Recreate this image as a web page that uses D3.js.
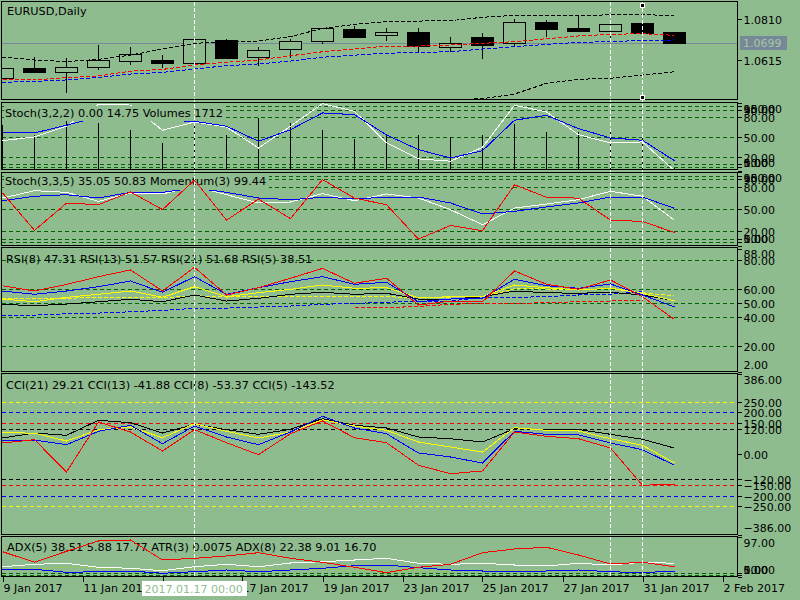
<!DOCTYPE html>
<html>
<head>
<meta charset="utf-8">
<script src="https://cdn.jsdelivr.net/npm/d3@7"></script>
<style>
  body { margin: 0; background: #8fbc8f; }
  svg { display: block; font-family: "DejaVu Sans", sans-serif; shape-rendering: crispEdges; }
</style>
</head>
<body>
<svg id="chart" width="800" height="600"></svg>
<script>
// ---------- data (EURUSD daily, 22 bars) ----------
const openPrices  = [1.0529, 1.0577, 1.0556, 1.0580, 1.0613, 1.0617, 1.0601, 1.0712, 1.0629, 1.0667, 1.0703,
                     1.0764, 1.0734, 1.0748, 1.0680, 1.0726, 1.0694, 1.0796, 1.0769, 1.0756, 1.0792, 1.0750];
const highPrices  = [1.0580, 1.0629, 1.0625, 1.0688, 1.0677, 1.0640, 1.0715, 1.0716, 1.0678, 1.0715, 1.0769,
                     1.0778, 1.0767, 1.0769, 1.0726, 1.0743, 1.0811, 1.0807, 1.0830, 1.0788, 1.0792, 1.0750];
const lowPrices   = [1.0526, 1.0553, 1.0458, 1.0569, 1.0593, 1.0580, 1.0601, 1.0627, 1.0588, 1.0625, 1.0694,
                     1.0720, 1.0708, 1.0653, 1.0656, 1.0620, 1.0684, 1.0727, 1.0756, 1.0712, 1.0746, 1.0693];
const closePrices = [1.0577, 1.0556, 1.0582, 1.0615, 1.0644, 1.0604, 1.0715, 1.0627, 1.0663, 1.0705, 1.0767,
                     1.0727, 1.0750, 1.0680, 1.0697, 1.0689, 1.0796, 1.0765, 1.0756, 1.0788, 1.0746, 1.0699];

const bandUpper = [1.0631, 1.0617, 1.0609, 1.0620, 1.0640, 1.0669, 1.0696, 1.0704, 1.0707, 1.0728, 1.0767,
                   1.0786, 1.0799, 1.0802, 1.0804, 1.0820, 1.0829, 1.0827, 1.0827, 1.0832, 1.0832, 1.0829];
const bandLower = [null, null, null, null, null, null, null, null, null, null, null,
                   null, null, null, 1.0428, 1.0433, 1.0455, 1.0506, 1.0525, 1.0530, 1.0545, 1.0561];
const maRed     = [1.0522, 1.0522, 1.0533, 1.0541, 1.0564, 1.0572, 1.0593, 1.0606, 1.0617, 1.0637, 1.0656,
                   1.0669, 1.0683, 1.0683, 1.0688, 1.0696, 1.0704, 1.0718, 1.0731, 1.0739, 1.0742, 1.0734];
const maBlue    = [1.0511, 1.0515, 1.0522, 1.0534, 1.0550, 1.0558, 1.0574, 1.0590, 1.0598, 1.0612, 1.0630,
                   1.0640, 1.0649, 1.0653, 1.0656, 1.0669, 1.0680, 1.0691, 1.0701, 1.0704, 1.0710, 1.0712];

const stochFastMain   = [44.4, 49.9, 65.7, 98.0, 97.0, 59.7, 72.0, 64.5, 33.6, 65.7, 99.0,
                         87.8, 41.0, 17.4, 14.0, 34.6, 96.7, 86.8, 53.2, 41.0, 42.5, 0.00];
const stochFastSignal = [55.8, 55.8, 67.1, 79.4, 82.0, 74.2, 73.0, 65.7, 43.5, 60.6, 85.3,
                         82.8, 52.8, 31.1, 18.8, 29.6, 74.5, 81.9, 62.1, 48.4, 45.0, 14.75];
const volumes = [38120, 29450, 45110, 39980, 34240, 22860, 42800, 29450, 44260, 39980, 34240,
                 26540, 28590, 29450, 27990, 29450, 39380, 32270, 32270, 33730, 27990, 1712];

const stochSlowMain   = [64.8, 74.6, 72.4, 60.3, 71.5, 70.2, 80.5, 69.2, 58.1, 59.4, 70.6,
                         61.2, 70.2, 64.8, 49.1, 28.9, 51.3, 56.7, 62.5, 73.8, 67.1, 35.05];
const stochSlowSignal = [61.2, 67.1, 69.2, 64.8, 72.4, 72.4, 78.2, 72.4, 64.8, 62.5, 65.7,
                         63.8, 65.7, 66.1, 58.1, 43.3, 46.9, 52.7, 58.1, 66.1, 66.1, 50.83];
const momentum = [100.72, 99.51, 100.39, 100.34, 100.75, 100.18, 101.13, 99.84, 100.52, 99.89, 101.15,
                  100.55, 100.34, 99.23, 99.67, 99.50, 100.98, 100.58, 100.55, 99.84, 99.80, 99.44];

const rsi5  = [62.1, 58.4, 63.0, 68.4, 73.1, 58.4, 74.9, 55.6, 60.7, 67.3, 74.2,
               63.8, 67.3, 48.6, 51.4, 50.9, 72.4, 63.1, 59.6, 66.1, 54.4, 38.51];
const rsi8  = [58.4, 56.1, 58.4, 61.4, 65.4, 57.5, 68.4, 56.1, 60.7, 64.9, 68.4,
               63.1, 64.5, 50.9, 52.8, 53.3, 66.6, 62.1, 60.3, 63.3, 55.6, 47.31];
const rsi13 = [52.8, 50.9, 54.0, 56.1, 58.4, 54.0, 61.4, 54.4, 57.2, 59.6, 62.6,
               60.3, 60.7, 53.7, 54.4, 54.4, 62.6, 60.7, 59.1, 60.3, 56.8, 51.57];
const rsi21 = [49.1, 48.1, 49.3, 50.9, 52.6, 50.9, 55.6, 51.4, 53.3, 56.1, 57.5,
               56.1, 56.8, 52.8, 52.8, 54.4, 58.4, 57.2, 56.8, 57.5, 55.6, 51.68];
const rsiAvgYellow = [53.3, 53.0, 53.3, 54.0, 54.2, 53.7, 55.1, 54.2, 54.4, 54.7, 54.9,
                      54.7, 54.4, 53.7, 54.2, 54.4, 59.8, 59.8, 59.1, 60.3, 57.2, 54.9];
const rsiAvgBlue   = [41.1, 41.6, 42.5, 43.0, 43.9, 44.9, 46.3, 46.5, 47.2, 47.9, 49.1,
                      49.8, 50.5, 51.4, 51.4, 54.0, 54.0, 54.4, 55.6, 56.1, 57.9, null];
const rsiAvgRed    = [null, null, null, null, null, null, null, null, null, null, null,
                      46.7, 46.7, 47.7, 49.1, 49.8, 49.8, 50.2, 50.9, 51.4, 52.1, null];

const cci21 = [77.7, 101.6, 90.6, 162.5, 151.0, 101.6, 143.3, 117.5, 95.4, 119.4, 170.2,
               138.5, 125.6, 82.5, 74.3, 58.5, 122.1, 119.4, 118.3, 95.4, 71.4, 29.21];
const cci13 = [103.1, 101.0, 63.3, 117.5, 130.4, 79.1, 146.2, 109.8, 77.7, 106.4, 165.4,
               135.2, 114.6, 58.5, 34.5, 10.5, 127.0, 114.6, 111.2, 74.3, 42.7, -41.88];
const cci8  = [66.6, 68.0, 45.5, 109.8, 138.5, 50.3, 135.2, 82.5, 45.5, 106.4, 181.7,
               125.6, 98.3, 5.8, -13.4, -42.2, 109.8, 95.4, 93.0, 53.7, 21.6, -53.37];
const cci5  = [53.7, 69.5, -85.3, 154.4, 106.4, 15.3, 117.5, 55.1, -2.4, 98.3, 159.2,
               79.1, 55.1, -53.2, -93.5, -80.5, 106.4, 85.8, 74.3, 29.7, -149.1, -143.52];

const adxMain  = [61.6, 35.5, 62.5, 87.9, 90.4, 41.1, 45.3, 51.0, 59.1, 45.3, 35.5,
                  23.2, 9.9, 23.2, 30.5, 59.1, 68.2, 72.4, 53.4, 31.3, 35.5, 24.6];
const adxPlus  = [24.6, 30.5, 33.0, 23.2, 20.7, 14.8, 24.6, 30.5, 24.6, 33.7, 36.9,
                  41.1, 45.3, 33.0, 30.5, 33.0, 28.8, 26.4, 33.0, 28.8, 35.5, 33.0];
const adxMinus = [16.5, 18.2, 10.8, 12.3, 14.0, 8.4, 12.3, 16.5, 12.3, 16.5, 20.7,
                  27.1, 28.8, 22.2, 16.5, 14.0, 14.0, 14.0, 16.5, 12.3, 9.9, 14.0];
const atr3 = [0.0095, 0.0102, 0.0118, 0.0110, 0.0098, 0.0090, 0.0105, 0.0112, 0.0101, 0.0093, 0.0088,
              0.0082, 0.0070, 0.0074, 0.0068, 0.0080, 0.0084, 0.0079, 0.0072, 0.0069, 0.0066, 0.0075];

const timeTickBars   = [0, 2.5, 5, 7.5, 10, 12.5, 15, 17.5, 20, 22.5];
const timeTickLabels = ['9 Jan 2017', '11 Jan 2017', '13 Jan 2017', '17 Jan 2017', '19 Jan 2017',
                        '23 Jan 2017', '25 Jan 2017', '27 Jan 2017', '31 Jan 2017', '2 Feb 2017'];
const vLineBars = [6, 19, 20];
const crosshairBar = 6;
const crosshairLabel = '2017.01.17 00:00';
const selectedBar = 20;

const priceTicks = [1.0810, 1.0615];
const stochLevels = [95, 90, 80, 50, 20, 10, 5];
const stochTicks = [100, 95, 90, 80, 50, 20, 10, 5, 0];
const rsiLevels = [80, 60, 50, 40, 20];
const rsiTicks = [88, 80, 60, 50, 40, 20, 2];
const cciLevels = [250, 200, 150, 120, -120, -150, -200, -250];
const cciLevelColors = ['#ffff00', '#0000ff', '#ff0000', '#000000', '#000000', '#ff0000', '#0000ff', '#ffff00'];
const cciTicks = [386, 250, 200, 150, 120, 0, -120, -150, -200, -250, -386];
const adxLevels = [10, 5];
const adxTicks = [97, 10, 5, 0];

// ---------- setup ----------
const bg = '#8fbc8f';
const levelGreen = '#006400';
const svg = d3.select('#chart');
svg.append('rect').attr('width', 800).attr('height', 600).attr('fill', bg);

const xScale = d3.scaleLinear().domain([0, 22.5]).range([2.5, 722.5]);
const contentLayer = svg.append('g');
const overlayLayer = svg.append('g');
const frameLayer = svg.append('g');

class IndicatorPanel {
  constructor(_config) {
    this.config = {
      id: _config.id,
      top: _config.top,
      bottom: _config.bottom,
      domain: _config.domain,
      left: 1.5,
      right: 737.5,
      range: _config.range || [_config.bottom, _config.top]
    };
    this.initVis();
  }

  initVis() {
    let vis = this;
    vis.yScale = d3.scaleLinear().domain(vis.config.domain).range(vis.config.range);

    svg.append('clipPath').attr('id', `clip-${vis.config.id}`)
      .append('rect')
        .attr('x', vis.config.left)
        .attr('y', vis.config.top)
        .attr('width', vis.config.right - vis.config.left)
        .attr('height', vis.config.bottom - vis.config.top);

    vis.chart = contentLayer.append('g').attr('clip-path', `url(#clip-${vis.config.id})`);

    frameLayer.append('rect')
        .attr('x', vis.config.left)
        .attr('y', vis.config.top)
        .attr('width', vis.config.right - vis.config.left)
        .attr('height', vis.config.bottom - vis.config.top)
        .attr('fill', 'none')
        .attr('stroke', '#000');
  }

  levels(values, colors) {
    let vis = this;
    vis.chart.selectAll(null)
        .data(values)
      .join('line')
        .attr('x1', vis.config.left)
        .attr('x2', vis.config.right)
        .attr('y1', d => Math.round(vis.yScale(d)) + 0.5)
        .attr('y2', d => Math.round(vis.yScale(d)) + 0.5)
        .attr('stroke', (d, i) => colors ? colors[i] : levelGreen)
        .attr('stroke-dasharray', '4,3');
  }

  line(values, color, dash, scale) {
    let vis = this;
    const y = scale || vis.yScale;
    const path = d3.line()
        .defined(d => d !== null)
        .x((d, i) => xScale(i))
        .y(d => y(d));
    vis.chart.append('path')
        .datum(values)
        .attr('d', path)
        .attr('fill', 'none')
        .attr('stroke', color)
        .attr('stroke-width', 1)
        .attr('stroke-dasharray', dash || null);
  }

  label(text, x, baseline, box) {
    let vis = this;
    if (box) {
      vis.chart.append('rect')
          .attr('x', x - 1)
          .attr('y', box[0])
          .attr('width', box[2])
          .attr('height', box[1] - box[0])
          .attr('fill', bg);
    }
    vis.chart.append('text')
        .attr('x', x)
        .attr('y', baseline)
        .attr('font-size', '11.3px')
        .attr('fill', '#000')
        .text(text);
  }

  axisTicks(values, fmt) {
    let vis = this;
    const g = frameLayer.append('g');
    values.forEach(v => {
      const y = Math.round(vis.yScale(v)) + 0.5;
      g.append('line')
          .attr('x1', vis.config.right).attr('x2', vis.config.right + 4)
          .attr('y1', y).attr('y2', y)
          .attr('stroke', '#000');
      const cy = Math.max(vis.config.top + 6, Math.min(vis.config.bottom - 7, y));
      g.append('text')
          .attr('x', vis.config.right + 6)
          .attr('y', cy + 4)
          .attr('font-size', '11px')
          .attr('fill', '#000')
          .text(fmt(v));
    });
  }
}

const fmt2 = d3.format('.2f');

// ---------- main price window ----------
const main = new IndicatorPanel({id: 'main', top: 1.5, bottom: 99.5, domain: [1.0429, 1.0895]});
const lastClose = closePrices[closePrices.length - 1];
main.chart.append('line')
    .attr('x1', main.config.left).attr('x2', main.config.right)
    .attr('y1', Math.round(main.yScale(lastClose)) + 0.5)
    .attr('y2', Math.round(main.yScale(lastClose)) + 0.5)
    .attr('stroke', '#778899');

const candles = closePrices.map((c, i) => ({i: i, o: openPrices[i], h: highPrices[i], l: lowPrices[i], c: c}));
main.chart.selectAll('.wick')
    .data(candles)
  .join('line')
    .attr('class', 'wick')
    .attr('x1', d => xScale(d.i)).attr('x2', d => xScale(d.i))
    .attr('y1', d => main.yScale(d.h))
    .attr('y2', d => main.yScale(d.l))
    .attr('stroke', '#000');
main.chart.selectAll('.body')
    .data(candles)
  .join('rect')
    .attr('class', 'body')
    .attr('x', d => xScale(d.i) - 11)
    .attr('width', 22)
    .attr('y', d => Math.round(main.yScale(Math.max(d.o, d.c))) + 0.5)
    .attr('height', d => Math.max(1, Math.round(Math.abs(main.yScale(d.o) - main.yScale(d.c)))))
    .attr('fill', d => d.c >= d.o ? bg : '#000')
    .attr('stroke', '#000');

main.line(bandUpper, '#000', '4,2');
main.line(bandLower, '#000', '4,2');
main.line(maRed, '#ff0000', '4,2');
main.line(maBlue, '#0000ff', '4,2');
main.label('EURUSD,Daily', 7, 15);
main.axisTicks(priceTicks, d3.format('.4f'));

// ---------- Stoch(3,2,2) + Volumes ----------
const stochA = new IndicatorPanel({id: 'stochA', top: 102.5, bottom: 169.5, domain: [0, 100], range: [170.7, 103]});
const volScale = d3.scaleLinear().domain([0, 58000]).range([169.5, 102.5]);
stochA.levels(stochLevels);
stochA.chart.selectAll('.vol')
    .data(volumes)
  .join('line')
    .attr('class', 'vol')
    .attr('x1', (d, i) => xScale(i)).attr('x2', (d, i) => xScale(i))
    .attr('y1', volScale(0))
    .attr('y2', d => volScale(d))
    .attr('stroke', '#000');
stochA.line(stochFastMain, '#ffffff');
stochA.line(stochFastSignal, '#0000ff');
stochA.label('Stoch(3,2,2) 0.00 14.75 Volumes 1712', 5, 117, [105.5, 120.5, 222]);
stochA.axisTicks(stochTicks, fmt2);

// ---------- Stoch(3,3,5) + Momentum ----------
const stochB = new IndicatorPanel({id: 'stochB', top: 172, bottom: 245.5, domain: [0, 100], range: [246.2, 171.8]});
const momScale = d3.scaleLinear().domain([99.0, 101.4]).range([246.2, 171.8]);
stochB.levels(stochLevels);
stochB.line(stochSlowMain, '#ffffff');
stochB.line(stochSlowSignal, '#0000ff');
stochB.label('Stoch(3,3,5) 35.05 50.83 Momentum(3) 99.44', 5, 185.3, [175, 190.3, 265]);
stochB.line(momentum, '#ff0000', null, momScale);
stochB.axisTicks(stochTicks, fmt2);

// ---------- RSI ----------
const rsi = new IndicatorPanel({id: 'rsi', top: 247.8, bottom: 371.5, domain: [2, 88], range: [371.8, 248.6]});
rsi.levels(rsiLevels);
rsi.line(rsiAvgBlue, '#0000ff', '4,2');
rsi.line(rsiAvgRed, '#ff0000', '4,2');
rsi.line(rsiAvgYellow, '#ffff00', '4,2');
rsi.line(rsi21, '#000000');
rsi.line(rsi13, '#ffff00');
rsi.line(rsi8, '#0000ff');
rsi.line(rsi5, '#ff0000');
rsi.label('RSI(8) 47.31 RSI(13) 51.57 RSI(21) 51.68 RSI(5) 38.51', 6, 263.3);
rsi.axisTicks(rsiTicks, fmt2);

// ---------- CCI ----------
const cci = new IndicatorPanel({id: 'cci', top: 373.5, bottom: 534.5, domain: [-386, 386], range: [534.7, 373.7]});
cci.levels(cciLevels, cciLevelColors);
cci.line(cci21, '#000000');
cci.line(cci13, '#ffff00');
cci.line(cci8, '#0000ff');
cci.line(cci5, '#ff0000');
cci.label('CCI(21) 29.21 CCI(13) -41.88 CCI(8) -53.37 CCI(5) -143.52', 6, 388.7);
cci.axisTicks(cciTicks, fmt2);

// ---------- ADX + ATR ----------
const adx = new IndicatorPanel({id: 'adx', top: 536.5, bottom: 576.7, domain: [0, 97], range: [576.7, 537.3]});
const atrScale = d3.scaleLinear().domain([0, 0.05]).range([576.7, 537.3]);
adx.levels(adxLevels);
adx.label('ADX(5) 38.51 5.88 17.77 ATR(3) 0.0075 ADX(8) 22.38 9.01 16.70', 7, 551);
adx.line(atr3, '#9acd32', '2,2', atrScale);
adx.line(adxMinus, '#0000ff');
adx.line(adxPlus, '#ffffff');
adx.line(adxMain, '#ff0000');
adx.axisTicks(adxTicks, fmt2);

// ---------- vertical lines ----------
overlayLayer.selectAll('.vline')
    .data(vLineBars)
  .join('line')
    .attr('class', 'vline')
    .attr('x1', d => xScale(d)).attr('x2', d => xScale(d))
    .attr('y1', main.config.top)
    .attr('y2', adx.config.bottom)
    .attr('stroke', '#ffffff')
    .attr('stroke-dasharray', '4,2');

[main.config.top + 2, main.config.bottom - 4].forEach(y => {
  frameLayer.append('rect')
      .attr('x', xScale(selectedBar) - 2)
      .attr('y', y)
      .attr('width', 4)
      .attr('height', 4)
      .attr('fill', '#000')
      .attr('stroke', '#fff');
});

// ---------- price label ----------
const lastY = main.yScale(lastClose);
frameLayer.append('rect')
    .attr('x', 739.5).attr('y', Math.round(lastY) - 7)
    .attr('width', 47).attr('height', 14)
    .attr('fill', '#778899');
frameLayer.append('text')
    .attr('x', 743).attr('y', Math.round(lastY) + 4)
    .attr('font-size', '11px')
    .attr('fill', '#a3c7a3')
    .text(d3.format('.4f')(lastClose));

// ---------- time axis ----------
const timeAxis = frameLayer.append('g');
timeTickBars.forEach((b, i) => {
  const x = Math.round(xScale(b)) + 0.5;
  timeAxis.append('line')
      .attr('x1', x).attr('x2', x)
      .attr('y1', adx.config.bottom).attr('y2', adx.config.bottom + 5)
      .attr('stroke', '#000');
  timeAxis.append('text')
      .attr('x', x)
      .attr('y', 592)
      .attr('font-size', '11px')
      .attr('fill', '#000')
      .text(timeTickLabels[i]);
});

const cx = xScale(crosshairBar);
frameLayer.append('rect')
    .attr('x', cx - 52.5).attr('y', 581)
    .attr('width', 105).attr('height', 15)
    .attr('fill', '#ffffff');
frameLayer.append('text')
    .attr('x', cx - 50).attr('y', 592.5)
    .attr('font-size', '11px')
    .attr('fill', bg)
    .text(crosshairLabel);
</script>
</body>
</html>
